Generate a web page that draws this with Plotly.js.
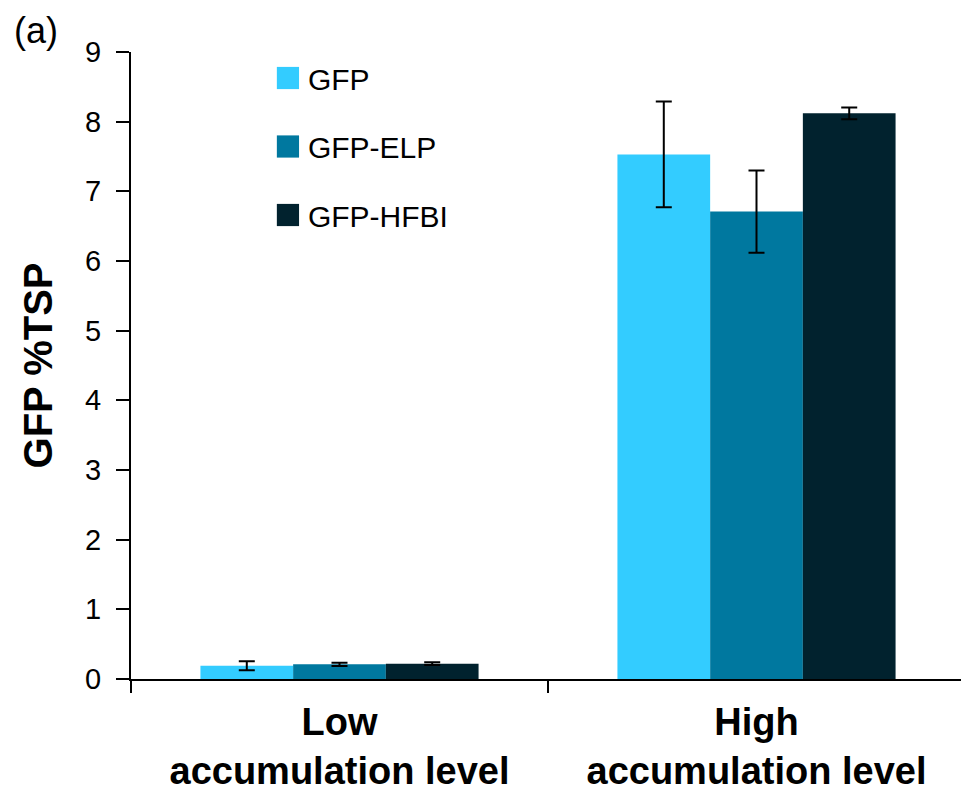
<!DOCTYPE html>
<html><head><meta charset="utf-8">
<script src="https://cdn.plot.ly/plotly-3.0.1.min.js"></script>
<style>html,body{margin:0;padding:0;background:#fff}#chart{width:961px;height:795px}</style>
</head><body><div id="chart"></div>
<script>
const categories = ["Low<br>accumulation level", "High<br>accumulation level"];
const seriesNames = ["GFP", "GFP-ELP", "GFP-HFBI"];
const gfpValues = [0.19, 7.53];
const gfpErrors = [0.065, 0.76];
const elpValues = [0.21, 6.71];
const elpErrors = [0.025, 0.59];
const hfbiValues = [0.22, 8.12];
const hfbiErrors = [0.02, 0.085];
const yTicks = [0,1,2,3,4,5,6,7,8,9];
const colors = ["#33CCFF", "#00789F", "#01222E"];

const vals = [gfpValues, elpValues, hfbiValues];
const errs = [gfpErrors, elpErrors, hfbiErrors];
const font = "Liberation Sans, Arial, sans-serif";

const traces = seriesNames.map((n, i) => ({
  type: "bar", name: n, x: categories, y: vals[i],
  marker: {color: colors[i], line: {width: 0}},
  legendgroup: n,
  error_y: {type: "data", array: errs[i], visible: true, color: "#000", thickness: 2, width: 8}
}));

const layout = {
  width: 961, height: 795,
  margin: {l: 131, r: 0, t: 52, b: 116},
  paper_bgcolor: "#fff", plot_bgcolor: "#fff",
  barmode: "group", bargap: 0.333, bargroupgap: 0,
  showlegend: true,
  legend: {x: 0.165, y: 1.0, xanchor: "left", yanchor: "top", font: {family: font, size: 30, color: "#000"},
           tracegroupgap: 26.5, bgcolor: "rgba(0,0,0,0)", traceorder: "grouped"},
  xaxis: {
    type: "category", range: [-0.5, 1.4904],
    tickson: "boundaries", ticks: "outside", ticklen: 12, tickwidth: 2, tickcolor: "#000",
    showline: true, linecolor: "#000", linewidth: 2, showgrid: false, zeroline: false,
    tickfont: {family: font, size: 38, color: "#000", weight: "bold"}, ticklabelstandoff: 8, fixedrange: true
  },
  yaxis: {
    range: [0, 9], tickmode: "array", tickvals: yTicks,
    ticks: "outside", ticklen: 13, tickwidth: 2, tickcolor: "#000",
    showline: true, linecolor: "#000", linewidth: 2, showgrid: false, zeroline: false,
    tickfont: {family: font, size: 29, color: "#000"}, ticklabelstandoff: 9,
    title: {text: "<b>GFP %TSP</b>", font: {family: font, size: 40, color: "#000"}, standoff: 20}
  },
  annotations: [{
    xref: "paper", yref: "paper", x: -0.143, y: 1.035, xanchor: "left", yanchor: "middle",
    text: "(a)", showarrow: false, font: {family: font, size: 36, color: "#000"}
  }]
};

Plotly.newPlot("chart", traces, layout, {displayModeBar: false, staticPlot: true}).then(() => {
  document.querySelectorAll(".legendpoints path").forEach(p => {
    p.setAttribute("transform", (p.getAttribute("transform") || "") + " scale(1.85)");
  });
});
</script></body></html>
